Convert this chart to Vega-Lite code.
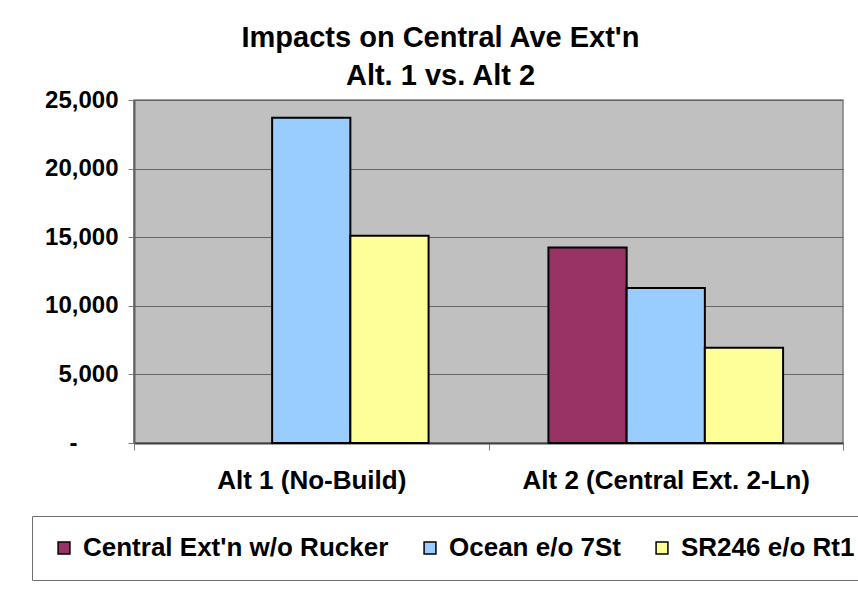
{
  "$schema": "https://vega.github.io/schema/vega-lite/v6.json",
  "autosize": {"type": "none"},
  "width": 709,
  "height": 343,
  "padding": {"left": 134, "top": 100, "right": 15, "bottom": 153},
  "background": "white",
  "title": {
    "text": ["Impacts on Central Ave Ext'n", "Alt. 1 vs. Alt 2"],
    "font": "Liberation Sans",
    "fontSize": 29,
    "fontWeight": "bold",
    "color": "black",
    "anchor": "middle",
    "frame": "group",
    "dx": -48,
    "lineHeight": 38,
    "offset": -3
  },
  "data": {
    "values": [
      {"alt": "Alt 1 (No-Build)", "series": "Ocean e/o 7St", "value": 23700},
      {"alt": "Alt 1 (No-Build)", "series": "SR246 e/o Rt1", "value": 15100},
      {"alt": "Alt 2 (Central Ext. 2-Ln)", "series": "Central Ext'n w/o Rucker", "value": 14250},
      {"alt": "Alt 2 (Central Ext. 2-Ln)", "series": "Ocean e/o 7St", "value": 11300},
      {"alt": "Alt 2 (Central Ext. 2-Ln)", "series": "SR246 e/o Rt1", "value": 6950}
    ]
  },
  "mark": {"type": "bar", "stroke": "black", "strokeWidth": 2},
  "encoding": {
    "x": {
      "field": "alt",
      "type": "nominal",
      "sort": null,
      "scale": {"paddingInner": 0, "paddingOuter": 0},
      "axis": {
        "title": null,
        "labelAngle": 0,
        "labelFont": "Liberation Sans",
        "labelFontSize": 26,
        "labelFontWeight": "bold",
        "labelColor": "black",
        "labelPadding": 17,
        "labelLimit": 500,
        "tickBand": "extent",
        "tickSize": 7,
        "tickColor": "#808080",
        "domainColor": "#404040",
        "domainWidth": 2,
        "grid": false
      }
    },
    "xOffset": {
      "field": "series",
      "type": "nominal",
      "scale": {"domain": ["Central Ext'n w/o Rucker", "Ocean e/o 7St", "SR246 e/o Rt1"], "paddingInner": 0, "paddingOuter": 0.766}
    },
    "y": {
      "field": "value",
      "type": "quantitative",
      "scale": {"domain": [0, 25000], "nice": false},
      "axis": {
        "title": null,
        "values": [0, 5000, 10000, 15000, 20000, 25000],
        "labelExpr": "datum.value === 0 ? '-' : format(datum.value, ',')",
        "labelFont": "Liberation Sans",
        "labelFontSize": 24,
        "labelFontWeight": "bold",
        "labelColor": "black",
        "labelPadding": {"condition": {"test": "datum.value === 0", "value": 51}, "value": 10},
        "tickSize": 6,
        "tickColor": "#808080",
        "domainColor": "#606060",
        "domainWidth": 2,
        "gridColor": "#666666",
        "gridWidth": 1
      }
    },
    "color": {
      "field": "series",
      "type": "nominal",
      "scale": {
        "domain": ["Central Ext'n w/o Rucker", "Ocean e/o 7St", "SR246 e/o Rt1"],
        "range": ["#993366", "#99CCFF", "#FFFF99"]
      },
      "legend": {
        "title": null,
        "orient": "none",
        "legendX": -102,
        "legendY": 416,
        "direction": "horizontal",
        "strokeColor": "#707070",
        "padding": 19,
        "symbolType": "square",
        "symbolSize": 140,
        "symbolStrokeColor": "black",
        "symbolStrokeWidth": 1.5,
        "symbolOpacity": 1,
        "labelFont": "Liberation Sans",
        "labelFontSize": 26,
        "labelFontWeight": "bold",
        "labelColor": "black",
        "labelOffset": 6,
        "columnPadding": 28,
        "labelLimit": 400
      }
    }
  },
  "config": {
    "view": {"fill": "#C0C0C0", "stroke": "#808080", "strokeWidth": 1.5},
    "bar": {"fillOpacity": 1}
  }
}
